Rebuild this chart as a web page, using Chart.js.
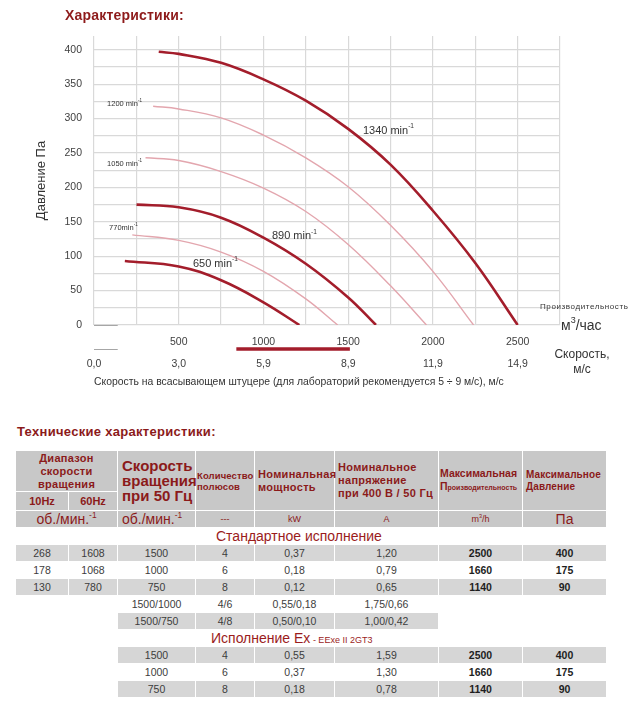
<!DOCTYPE html>
<html>
<head>
<meta charset="utf-8">
<script src="https://cdn.jsdelivr.net/npm/chart.js@4.4.1/dist/chart.umd.min.js"></script>
<style>
  body { margin: 0; background: #fff; font-family: "Liberation Sans", Arial, sans-serif; }
  #page { position: relative; width: 640px; height: 716px; overflow: hidden; }
  #chartTitle { position: absolute; left: 65px; top: 7px; font: bold 14px "Liberation Sans", Arial, sans-serif; color: #8e1b1b; letter-spacing: 0.2px; }
  #chartBox { position: absolute; left: 0; top: 0; width: 640px; height: 400px; }
  #techTitle { position: absolute; left: 17px; top: 424px; font: bold 13px "Liberation Sans", Arial, sans-serif; color: #8b1a1a; letter-spacing: 0.3px; }
  #spec { position: absolute; left: 15px; top: 450px; width: 591px; border-collapse: collapse; table-layout: fixed; }
  #spec th, #spec td { padding: 0; border: 1px solid #fff; white-space: nowrap; overflow: visible; text-align: center; vertical-align: middle; }
  #spec th { background: #c8c8c8; color: #8b1a1a; font-weight: bold; font-size: 11px; letter-spacing: 0.3px; line-height: 13px; }
  #spec th.lft { text-align: left; padding-left: 3px; }
  #spec th.big { font-size: 15px; line-height: 15px; letter-spacing: 0; text-align: left; padding-left: 4px; }
  #spec th.poles { font-size: 9.5px; line-height: 11px; text-align: left; padding-left: 1px; letter-spacing: 0.1px; }
  #spec th.mx { font-size: 10.5px; letter-spacing: 0; padding-left: 1px; }
  #spec th.sm { font-size: 10px; line-height: 12px; letter-spacing: 0.1px; }
  #spec .tiny { font-size: 7px; letter-spacing: 0; }
  #spec tr.h1 { height: 41px; }
  #spec tr.h2 { height: 19px; }
  #spec tr.h2 th { font-size: 11px; letter-spacing: 0; }
  #spec tr.units td { height: 16px; background: #c8c8c8; color: #8b1a1a; font-size: 9px; }
  #spec tr.units td.u14 { font-size: 14px; }
  #spec tr.units td.l { text-align: left; padding-left: 4px; }
  #spec sup { font-size: 0.6em; line-height: 0; }
  #spec tr.cap td { height: 16px; background: #fff; text-align: left; color: #9b1c1c; font-size: 14px; }
  #spec tr.d td { height: 16px; font-size: 10.5px; color: #3c3c3c; }
  #spec tr.d td.g { background: #d6d6d6; }
  #spec tr.d td.b { font-weight: bold; color: #1e1e1e; }
</style>
</head>
<body>
<div id="page">
  <div id="chartBox"><canvas id="fanChart" width="640" height="400"></canvas></div>
  <div id="chartTitle">Характеристики:</div>
  <div id="techTitle">Технические характеристики:</div>
  <table id="spec">
    <colgroup>
      <col style="width:53px"><col style="width:49px"><col style="width:78px"><col style="width:59px">
      <col style="width:80px"><col style="width:104px"><col style="width:84px"><col style="width:84px">
    </colgroup>
    <tbody id="specBody">
      <tr class="h1">
        <th colspan="2">Диапазон<br>скорости<br>вращения</th>
        <th rowspan="2" class="big">Скорость<br>вращения<br>при 50 Гц</th>
        <th rowspan="2" class="poles">Количество<br>полюсов</th>
        <th rowspan="2" class="lft">Номинальная<br>мощность</th>
        <th rowspan="2" class="lft">Номинальное<br>напряжение<br>при 400 В / 50 Гц</th>
        <th rowspan="2" class="lft mx">Максимальная<br>П<span class="tiny">роизводительность</span></th>
        <th rowspan="2" class="lft sm">Максимальное<br>Давление</th>
      </tr>
      <tr class="h2"><th>10Hz</th><th>60Hz</th></tr>
      <tr class="units">
        <td colspan="2" class="u14">об./мин.<sup>-1</sup></td>
        <td class="u14 l">об./мин.<sup>-1</sup></td>
        <td>---</td><td>kW</td><td>A</td><td>m<sup>3</sup>/h</td><td class="u14">Па</td>
      </tr>
    </tbody>
  </table>
</div>
<script>
// chart data
const flowTicks = [500, 1000, 1500, 2000, 2500];
const velocityTicks = ['0,0', '3,0', '5,9', '8,9', '11,9', '14,9'];
const pressureTicks = [0, 50, 100, 150, 200, 250, 300, 350, 400];
const recommendedFlow = [840, 1510];   // 5 ÷ 9 м/с

const q1340 = [382, 500, 750, 1000, 1250, 1500, 1750, 2000, 2250, 2500];
const p1340 = [397, 394, 381, 357, 326, 285, 233, 166, 90, 0];
const q1200 = [349, 500, 750, 1000, 1250, 1500, 1750, 2000, 2240];
const p1200 = [318, 314, 301, 276, 243, 201, 145, 78, 0];
const q1050 = [304, 500, 750, 1000, 1250, 1500, 1750, 1962];
const p1050 = [243, 239, 223, 199, 165, 117, 57, 0];
const q890 = [251, 500, 750, 1000, 1250, 1500, 1664];
const p890 = [175, 171, 156, 127, 89, 40, 0];
const q770 = [226, 500, 750, 1000, 1250, 1438];
const p770 = [131, 123, 106, 78, 38, 0];
const q650 = [182, 500, 750, 1000, 1212];
const p650 = [93, 85, 65, 33, 0];

// table data
const stdLow = ['268', '178', '130'];
const stdHigh = ['1608', '1068', '780'];
const stdSpeed = ['1500', '1000', '750'];
const stdPoles = ['4', '6', '8'];
const stdPower = ['0,37', '0,18', '0,12'];
const stdCurrent = ['1,20', '0,79', '0,65'];
const stdFlow = ['2500', '1660', '1140'];
const stdPressure = ['400', '175', '90'];
const twoSpeed = ['1500/1000', '1500/750'];
const twoPoles = ['4/6', '4/8'];
const twoPower = ['0,55/0,18', '0,50/0,10'];
const twoCurrent = ['1,75/0,66', '1,00/0,42'];
const exSpeed = ['1500', '1000', '750'];
const exPoles = ['4', '6', '8'];
const exPower = ['0,55', '0,37', '0,18'];
const exCurrent = ['1,59', '1,30', '0,78'];
const exFlow = ['2500', '1660', '1140'];
const exPressure = ['400', '175', '90'];

const thickRed = '#a31d2b';
const lightRed = '#e3a6ae';

function pts(q, p) {
  return q.map((v, i) => ({ x: v, y: p[i] }));
}

function curve(q, p, thick) {
  return {
    data: pts(q, p),
    borderColor: thick ? thickRed : lightRed,
    borderWidth: thick ? 2.6 : 1.4,
    pointRadius: 0,
    fill: false,
    tension: 0.4
  };
}

const curveLabels = [
  { text: '1340 min', q: 1587, p: 282, size: 11 },
  { text: '890 min', q: 1050, p: 129, size: 11 },
  { text: '650 min', q: 584, p: 89, size: 11 },
  { text: '1200 min', q: 77, p: 321, size: 7.5 },
  { text: '1050 min', q: 77, p: 234, size: 7.5 },
  { text: '770min', q: 89, p: 141, size: 7.5 }
];

const extraText = {
  id: 'extraText',
  afterDatasetsDraw(chart) {
    const ctx = chart.ctx;
    const x = chart.scales.x, y = chart.scales.y, x2 = chart.scales.x2;
    const area = chart.chartArea;
    const font = '"Liberation Sans", Arial, sans-serif';
    ctx.save();

    // recommended velocity band
    const barY = x2.top;
    ctx.strokeStyle = thickRed;
    ctx.lineWidth = 3.5;
    ctx.beginPath();
    ctx.moveTo(x.getPixelForValue(recommendedFlow[0]), barY);
    ctx.lineTo(x.getPixelForValue(recommendedFlow[1]), barY);
    ctx.stroke();

    // short axis stubs
    ctx.strokeStyle = '#a6a6a6';
    ctx.lineWidth = 1;
    [area.bottom, barY].forEach(yy => {
      ctx.beginPath();
      ctx.moveTo(x.getPixelForValue(0), Math.round(yy) + 0.5);
      ctx.lineTo(x.getPixelForValue(140), Math.round(yy) + 0.5);
      ctx.stroke();
    });

    // curve labels
    ctx.fillStyle = '#333';
    ctx.textAlign = 'left';
    ctx.textBaseline = 'middle';
    curveLabels.forEach(l => {
      const px = x.getPixelForValue(l.q), py = y.getPixelForValue(l.p);
      ctx.font = l.size + 'px ' + font;
      ctx.fillText(l.text, px, py);
      const w = ctx.measureText(l.text).width;
      ctx.font = (l.size * 0.6) + 'px ' + font;
      ctx.fillText('-1', px + w, py - l.size * 0.4);
    });

    // axis captions on the right
    const r = area.right;
    ctx.fillStyle = '#333';
    ctx.font = '8px ' + font;
    ctx.letterSpacing = '0.6px';
    ctx.fillText('Производительность', r - 20, area.bottom - 18);
    ctx.letterSpacing = '0px';
    ctx.font = '14px ' + font;
    ctx.fillText('м', r + 1, area.bottom + 1);
    const w = ctx.measureText('м').width;
    ctx.font = '9px ' + font;
    ctx.fillText('3', r + 1 + w, area.bottom - 4);
    const w3 = ctx.measureText('3').width;
    ctx.font = '14px ' + font;
    ctx.fillText('/час', r + 1 + w + w3, area.bottom + 1);

    ctx.font = '12px ' + font;
    ctx.textAlign = 'center';
    ctx.fillText('Скорость,', r + 22, barY + 6);
    ctx.fillText('м/с', r + 22, barY + 21);
    ctx.restore();
  }
};

new Chart(document.getElementById('fanChart').getContext('2d'), {
  type: 'line',
  data: {
    datasets: [
      curve(q1340, p1340, true),
      curve(q1200, p1200, false),
      curve(q1050, p1050, false),
      curve(q890, p890, true),
      curve(q770, p770, false),
      curve(q650, p650, true)
    ]
  },
  options: {
    responsive: false,
    animation: false,
    events: [],
    layout: { padding: { top: 36, right: 80, left: 0, bottom: 0 } },
    plugins: { legend: { display: false }, tooltip: { enabled: false } },
    scales: {
      x: {
        type: 'linear', position: 'bottom', min: 0, max: 2750,
        afterFit: s => { s.height = 24; },
        border: { display: false },
        grid: { color: '#d9d9d9', lineWidth: 1.2, drawTicks: false },
        ticks: {
          stepSize: 250, autoSkip: false, maxRotation: 0, padding: 11,
          color: '#404040', font: { family: 'Liberation Sans', size: 10.5 },
          callback: v => flowTicks.includes(v) ? String(v) : ''
        }
      },
      x2: {
        type: 'linear', position: 'bottom', min: 0, max: 2750,
        afterFit: s => { s.height = 51; },
        border: { display: false },
        grid: { display: false, drawTicks: false },
        ticks: {
          stepSize: 250, autoSkip: false, maxRotation: 0, padding: 9,
          color: '#404040', font: { family: 'Liberation Sans', size: 10.5 },
          callback: v => (v % 500 === 0 && v / 500 < velocityTicks.length) ? velocityTicks[v / 500] : ''
        },
        title: {
          display: true, align: 'start',
          text: 'Скорость на всасывающем штуцере (для лабораторий рекомендуется 5 ÷ 9 м/с), м/с',
          color: '#333', font: { family: 'Liberation Sans', size: 10.4 },
          padding: { top: 0, bottom: 12 }
        }
      },
      y: {
        min: 0, max: 420,
        afterFit: s => { s.width = 94; },
        border: { display: false },
        grid: {
          drawTicks: false, lineWidth: 1.2,
          color: c => (c.tick && c.tick.value % 25 === 0 && c.tick.value <= 400) ? '#d9d9d9' : 'rgba(0,0,0,0)'
        },
        ticks: {
          stepSize: 25, padding: 12, color: '#404040',
          font: { family: 'Liberation Sans', size: 10.5 },
          callback: v => pressureTicks.includes(v) ? String(v) : ''
        },
        title: {
          display: true, text: 'Давление Па', color: '#333',
          font: { family: 'Liberation Sans', size: 13 },
          padding: { top: 34, bottom: 0 }
        }
      }
    }
  },
  plugins: [extraText]
});

// table rows
const body = document.getElementById('specBody');

function addRow(cls, cells) {
  const tr = document.createElement('tr');
  tr.className = cls;
  cells.forEach(c => {
    const td = document.createElement('td');
    if (c.span) td.colSpan = c.span;
    if (c.cls) td.className = c.cls;
    if (c.html) td.innerHTML = c.html; else td.textContent = c.text || '';
    tr.appendChild(td);
  });
  body.appendChild(tr);
}

addRow('cap', [{ span: 8, html: '<span style="padding-left:200px">Стандартное исполнение</span>' }]);
stdSpeed.forEach((s, i) => {
  const g = i % 2 === 0 ? 'g' : '';
  addRow('d', [
    { text: stdLow[i], cls: g }, { text: stdHigh[i], cls: g }, { text: s, cls: g },
    { text: stdPoles[i], cls: g }, { text: stdPower[i], cls: g }, { text: stdCurrent[i], cls: g },
    { text: stdFlow[i], cls: g + ' b' }, { text: stdPressure[i], cls: g + ' b' }
  ]);
});
twoSpeed.forEach((s, i) => {
  const g = i % 2 === 1 ? 'g' : '';
  addRow('d', [
    { text: '' }, { text: '' }, { text: s, cls: g }, { text: twoPoles[i], cls: g },
    { text: twoPower[i], cls: g }, { text: twoCurrent[i], cls: g }, { text: '' }, { text: '' }
  ]);
});
addRow('cap', [{ span: 8, html: '<span style="padding-left:195px">Исполнение Ex<span style="font-size:9px"> - EExe II 2GT3</span></span>' }]);
exSpeed.forEach((s, i) => {
  const g = i % 2 === 0 ? 'g' : '';
  addRow('d', [
    { text: '' }, { text: '' }, { text: s, cls: g }, { text: exPoles[i], cls: g },
    { text: exPower[i], cls: g }, { text: exCurrent[i], cls: g },
    { text: exFlow[i], cls: g + ' b' }, { text: exPressure[i], cls: g + ' b' }
  ]);
});
</script>
</body>
</html>
